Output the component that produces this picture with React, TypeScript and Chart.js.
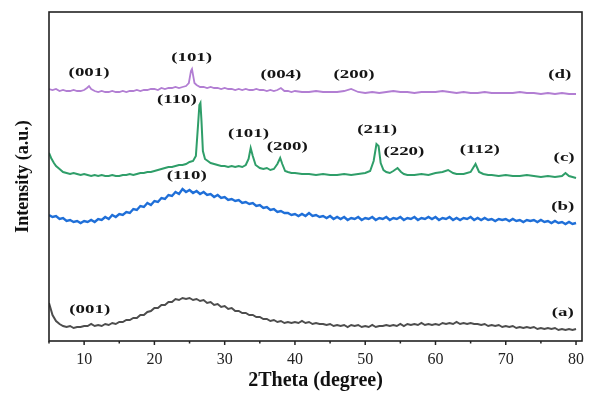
import React, { useEffect, useRef } from "react";
import { Chart, registerables } from "chart.js";
Chart.register(...registerables);

const FONT = "'Liberation Serif', 'Times New Roman', serif";

// shared 2θ grid for the broad amorphous traces (a) and (b)
const gridX = [
  5, 5.5, 6, 6.5, 7, 7.5, 8, 8.5, 9, 9.5,
  10, 10.5, 11, 11.5, 12, 12.5, 13, 13.5, 14, 14.5,
  15, 15.5, 16, 16.5, 17, 17.5, 18, 18.5, 19, 19.5,
  20, 20.5, 21, 21.5, 22, 22.5, 23, 23.5, 24, 24.5,
  25, 25.5, 26, 26.5, 27, 27.5, 28, 28.5, 29, 29.5,
  30, 30.5, 31, 31.5, 32, 32.5, 33, 33.5, 34, 34.5,
  35, 35.5, 36, 36.5, 37, 37.5, 38, 38.5, 39, 39.5,
  40, 40.5, 41, 41.5, 42, 42.5, 43, 43.5, 44, 44.5,
  45, 45.5, 46, 46.5, 47, 47.5, 48, 48.5, 49, 49.5,
  50, 50.5, 51, 51.5, 52, 52.5, 53, 53.5, 54, 54.5,
  55, 55.5, 56, 56.5, 57, 57.5, 58, 58.5, 59, 59.5,
  60, 60.5, 61, 61.5, 62, 62.5, 63, 63.5, 64, 64.5,
  65, 65.5, 66, 66.5, 67, 67.5, 68, 68.5, 69, 69.5,
  70, 70.5, 71, 71.5, 72, 72.5, 73, 73.5, 74, 74.5,
  75, 75.5, 76, 76.5, 77, 77.5, 78, 78.5, 79, 79.5,
  80,
];

// (a) gray
const seriesA = [
  38, 26, 20, 17, 15, 14, 15, 13, 14, 14,
  15, 15, 17, 15, 16, 15, 17, 16, 18, 17,
  19, 19, 21, 21, 23, 23, 26, 26, 29, 30,
  33, 33, 36, 36, 39, 39, 42, 41, 43, 42,
  43, 41, 42, 40, 41, 38, 39, 36, 37, 34,
  35, 32, 33, 30, 30, 28, 28, 26, 26, 24,
  24, 22, 22, 20, 21, 19, 20, 18, 19, 18,
  19, 18, 20, 18, 19, 17, 18, 17, 17, 16,
  17, 15, 16, 15, 16, 14, 16, 15, 16, 14,
  15, 14, 16, 14, 15, 15, 16, 15, 16, 15,
  17, 15, 17, 16, 17, 16, 18, 16, 17, 16,
  17, 16, 18, 17, 18, 17, 19, 17, 18, 17,
  18, 17, 17, 16, 17, 15, 16, 15, 16, 14,
  15, 14, 15, 13, 14, 13, 14, 13, 14, 12,
  13, 12, 13, 12, 13, 11, 12, 11, 12, 11,
  12,
];

// (b) blue
const seriesB = [
  126, 124, 125, 122, 123, 120, 121, 119, 120, 118,
  120, 119, 121, 119, 122, 121, 124, 122, 126, 124,
  127, 126, 129, 128, 132, 131, 135, 134, 138, 136,
  140, 139, 143, 142, 146, 145, 149, 147, 152, 149,
  151, 148, 150, 147, 149, 146, 147, 144, 146, 143,
  144, 141, 142, 140, 141, 138, 139, 137, 138, 135,
  136, 133, 134, 131, 132, 129, 130, 128, 128, 126,
  127, 125, 127, 125, 128, 125, 126, 124, 125, 123,
  125, 122, 124, 122, 124, 121, 123, 122, 124, 121,
  123, 122, 124, 121, 123, 122, 124, 121, 123, 122,
  124, 121, 123, 122, 124, 121, 123, 122, 124, 122,
  124, 121, 123, 122, 124, 121, 123, 121, 123, 122,
  124, 121, 123, 121, 123, 121, 122, 120, 122, 121,
  122, 120, 122, 120, 121, 119, 121, 120, 121, 119,
  121, 119, 120, 118, 120, 118, 119, 117, 119, 117,
  118,
];

// (c) green
const xC = [
  5, 5.3, 5.7, 6, 6.5, 7, 7.5, 8, 8.5, 9,
  9.5, 10, 10.5, 11, 11.5, 12, 12.5, 13, 13.5, 14,
  14.5, 15, 15.5, 16, 16.5, 17, 17.5, 18, 18.5, 19,
  19.5, 20, 20.5, 21, 21.5, 22, 22.5, 23, 23.5, 24,
  24.5, 25, 25.5, 25.9, 26.2, 26.4, 26.55, 26.7, 26.9, 27.2,
  27.6, 28, 28.5, 29, 29.5, 30, 30.5, 31, 31.5, 32,
  32.5, 33, 33.4, 33.7, 34, 34.4, 35, 35.5, 36, 36.5,
  37, 37.5, 37.9, 38.2, 38.6, 39, 39.5, 40, 41, 42,
  43, 44, 45, 46, 47, 48, 49, 50, 50.7, 51.2,
  51.6, 51.9, 52.2, 52.6, 53, 53.5, 54, 54.6, 55.1, 55.5,
  56, 57, 58, 59, 60, 61, 61.8, 62.5, 63, 64,
  65, 65.7, 66.2, 66.8, 67.5, 68, 69, 70, 71, 72,
  73, 74, 75, 76, 77, 78, 78.5, 79, 79.5, 80,
];
const seriesC = [
  188, 183, 178, 175, 172, 169, 168, 167, 168, 167,
  166, 167, 166, 165, 166, 165, 166, 165, 165, 166,
  165, 165, 166, 166, 167, 166, 167, 168, 168, 169,
  169, 170, 171, 172, 173, 174, 174, 175, 176, 176,
  177, 179, 180, 185, 215, 236, 238, 220, 190, 182,
  180, 178, 177, 176, 175, 175, 174, 175, 174, 175,
  174, 176, 182, 193, 185, 176, 173, 172, 173, 171,
  172, 177, 183, 177, 170, 169, 168, 168, 167, 167,
  166, 167, 166, 166, 167, 166, 167, 168, 170, 180,
  197, 195, 178, 171, 169, 168, 170, 173, 169, 167,
  166, 166, 167, 166, 168, 169, 171, 168, 167, 167,
  169, 177, 169, 167, 166, 166, 165, 166, 165, 165,
  166, 165, 164, 165, 164, 165, 168, 165, 164, 163,
];

// (d) purple
const xD = [
  5, 5.5, 6, 6.5, 7, 7.5, 8, 8.5, 9, 9.5,
  10, 10.4, 10.7, 11, 11.5, 12, 12.5, 13, 13.5, 14,
  14.5, 15, 15.5, 16, 16.5, 17, 17.5, 18, 18.5, 19,
  19.5, 20, 20.5, 21, 21.5, 22, 22.5, 23, 23.5, 24,
  24.5, 24.9, 25.2, 25.35, 25.5, 25.7, 26, 26.5, 27, 27.5,
  28, 28.5, 29, 29.5, 30, 30.5, 31, 31.5, 32, 32.5,
  33, 33.5, 34, 34.5, 35, 35.5, 36, 36.5, 37, 37.5,
  38, 38.5, 39, 39.5, 40, 41, 42, 43, 44, 45,
  46, 47, 48, 49, 50, 51, 52, 53, 54, 55,
  56, 57, 58, 59, 60, 61, 62, 63, 64, 65,
  66, 67, 68, 69, 70, 71, 72, 73, 74, 75,
  76, 77, 78, 79, 80,
];
const seriesD = [
  252, 251, 252, 250, 251, 250, 250, 251, 250, 250,
  251, 253, 255, 252, 250, 249, 250, 249, 249, 250,
  249, 249, 250, 249, 250, 250, 251, 250, 251, 251,
  252, 252, 251, 253, 252, 253, 253, 254, 253, 254,
  255, 258, 270, 272, 266, 258, 256, 254, 254, 253,
  254, 253, 253, 252, 253, 252, 252, 251, 252, 251,
  252, 251, 251, 252, 251, 251, 250, 251, 250, 251,
  253, 250, 250, 249, 250, 249, 249, 250, 249, 249,
  249, 250, 252, 249, 248, 249, 248, 249, 250, 249,
  249, 248, 249, 249, 249, 250, 249, 248, 249, 248,
  248, 249, 248, 248, 248, 248, 249, 248, 248, 247,
  248, 247, 248, 247, 247,
];

// peak / trace labels
const labelText = [
  "(001)", "(101)", "(004)", "(200)", "(d)",
  "(110)", "(101)", "(200)", "(211)", "(220)", "(112)", "(c)",
  "(110)", "(b)",
  "(001)", "(a)",
];
const labelX = [
  10.7, 25.3, 38.0, 48.4, 77.7,
  23.2, 33.4, 38.9, 51.7, 55.5, 66.3, 78.3,
  24.6, 78.1,
  10.8, 78.1,
];
const labelY = [
  268, 283, 266, 266, 266,
  241, 207, 194, 211, 189, 191, 183,
  165, 134,
  31, 28,
];

const xTickValues = [10, 20, 30, 40, 50, 60, 70, 80];

const App = () => {
  const ref = useRef<HTMLCanvasElement>(null);
  useEffect(() => {
    document.body.style.margin = "0";
    const canvas = ref.current;
    if (!canvas) return;
    const pairs = (xs: number[], ys: number[]) => xs.map((x, i) => ({ x, y: ys[i] }));

    const annotate = {
      id: "annotate",
      afterDatasetsDraw(chart: any) {
        const { ctx, scales } = chart;
        ctx.save();
        ctx.fillStyle = "#151515";
        ctx.font = `bold 13.5px ${FONT}`;
        ctx.textAlign = "center";
        ctx.textBaseline = "middle";
        labelText.forEach((t, i) => {
          const px = scales.x.getPixelForValue(labelX[i]);
          const py = scales.y.getPixelForValue(labelY[i]);
          ctx.save();
          ctx.translate(px, py);
          ctx.scale(1.4, 1);
          ctx.fillText(t, 0, 0);
          ctx.restore();
        });
        ctx.restore();
      },
    };

    const frame = {
      id: "frame",
      afterDraw(chart: any) {
        const { ctx, chartArea, scales } = chart;
        const { left, top, right, bottom } = chartArea;
        ctx.save();
        ctx.strokeStyle = "#222";
        ctx.lineWidth = 1.6;
        ctx.strokeRect(left, top, right - left, bottom - top);
        ctx.lineWidth = 1.5;
        scales.x.ticks.forEach((tk: any) => {
          const v = tk.value;
          if (v % 5 !== 0) return;
          const px = scales.x.getPixelForValue(v);
          const len = v % 10 === 0 ? 4 : 2.5;
          ctx.beginPath();
          ctx.moveTo(px, bottom);
          ctx.lineTo(px, bottom + len);
          ctx.stroke();
        });
        ctx.restore();
      },
    };

    const chart = new Chart(canvas, {
      type: "line",
      data: {
        datasets: [
          { label: "(a)", data: pairs(gridX, seriesA), borderColor: "#4d4d4d", borderWidth: 2 },
          { label: "(b)", data: pairs(gridX, seriesB), borderColor: "#1f6fd8", borderWidth: 2.4 },
          { label: "(c)", data: pairs(xC, seriesC), borderColor: "#2f9e69", borderWidth: 2 },
          { label: "(d)", data: pairs(xD, seriesD), borderColor: "#b27ed3", borderWidth: 1.8 },
        ],
      },
      options: {
        animation: false,
        responsive: false,
        events: [],
        elements: { point: { radius: 0 }, line: { tension: 0 } },
        layout: { padding: { top: 12, right: 7, left: 0, bottom: 0 } },
        plugins: { legend: { display: false }, tooltip: { enabled: false } },
        scales: {
          x: {
            type: "linear",
            min: 5,
            max: 80.85,
            grid: { display: false, drawTicks: false },
            border: { display: false },
            afterFit: (s: any) => {
              s.height = 55;
              s.paddingLeft = 0;
              s.paddingRight = 0;
            },
            ticks: {
              stepSize: 5,
              includeBounds: false,
              autoSkip: false,
              maxRotation: 0,
              padding: 9,
              color: "#222",
              font: { family: FONT, size: 16 },
              callback: (v: any) => (xTickValues.includes(Number(v)) ? String(v) : ""),
            },
            title: {
              display: true,
              text: "2Theta (degree)",
              color: "#111",
              font: { family: FONT, size: 20, weight: "bold" },
              padding: { top: 0, bottom: 3 },
            },
          },
          y: {
            min: 0,
            max: 329,
            grid: { display: false, drawTicks: false },
            border: { display: false },
            ticks: { display: false },
            afterFit: (s: any) => {
              s.width = 49;
              s.paddingTop = 0;
              s.paddingBottom = 0;
            },
            title: {
              display: true,
              text: "Intensity (a.u.)",
              color: "#111",
              font: { family: FONT, size: 18, weight: "bold" },
              padding: { top: 13, bottom: 0 },
            },
          },
        },
      },
      plugins: [annotate, frame],
    });
    return () => chart.destroy();
  }, []);
  return (
    <div style={{ width: 589, height: 396 }}>
      <canvas ref={ref} width={589} height={396} style={{ display: "block" }} />
    </div>
  );
};

export default App;
